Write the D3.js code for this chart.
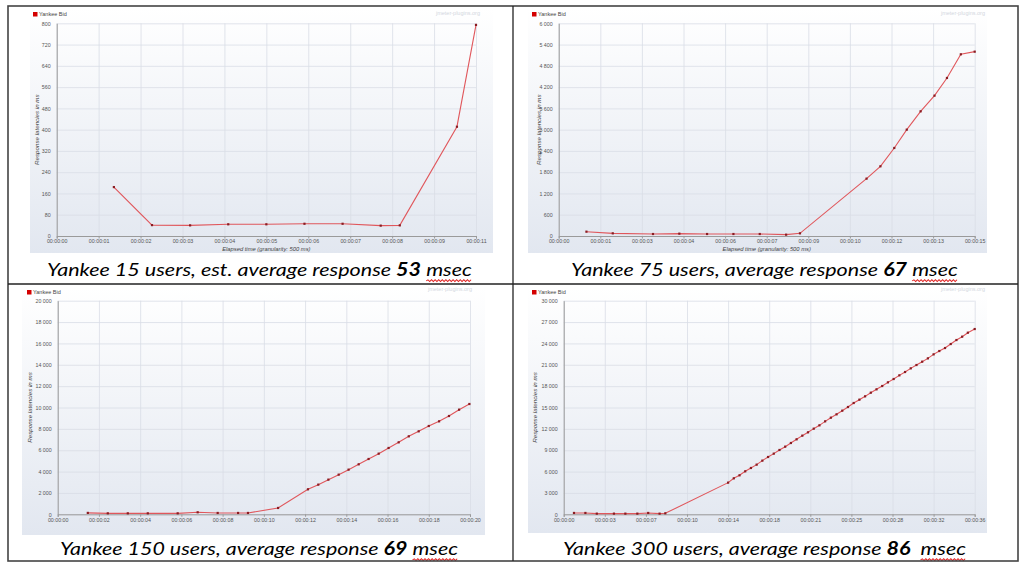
<!DOCTYPE html>
<html><head><meta charset="utf-8">
<script src="https://cdn.jsdelivr.net/npm/d3@7"></script>
<style>body{margin:0;background:#fff}svg{display:block}</style>
</head><body>
<script>
// ---------- DATA ----------
const seriesName = "Yankee Bid";
const yTitle = "Response latencies in ms";
const xTitle = "Elapsed time (granularity: 500 ms)";
const watermark = "jmeter-plugins.org";

// Panel 1: 15 users
const p1Times  = [1.5, 2.5, 3.5, 4.5, 5.5, 6.5, 7.5, 8.5, 9.0, 10.5, 11.0];
const p1Values = [184, 41, 40, 44, 44, 46, 46, 39, 40, 411, 794];
const p1XTicks = [0, 1.1, 2.2, 3.3, 4.4, 5.5, 6.6, 7.7, 8.8, 9.9, 11];
const p1XLabels = ["00:00:00","00:00:01","00:00:02","00:00:03","00:00:04","00:00:05","00:00:06","00:00:07","00:00:08","00:00:09","00:00:11"];
const p1YTicks = [0, 80, 160, 240, 320, 400, 480, 560, 640, 720, 800];

// Panel 2: 75 users
const p2Times  = [1.0, 1.95, 3.4, 4.35, 5.35, 6.3, 7.25, 8.2, 8.7, 11.1, 11.6, 12.1, 12.55, 13.05, 13.55, 14.0, 14.5, 15.0];
const p2Values = [122, 75, 56, 66, 56, 56, 56, 38, 75, 1618, 1966, 2483, 3000, 3517, 3959, 4458, 5125, 5200];
const p2XTicks = [0, 1.5, 3, 4.5, 6, 7.5, 9, 10.5, 12, 13.5, 15];
const p2XLabels = ["00:00:00","00:00:01","00:00:03","00:00:04","00:00:06","00:00:07","00:00:09","00:00:10","00:00:12","00:00:13","00:00:15"];
const p2YTicks = [0, 600, 1200, 1800, 2400, 3000, 3600, 4200, 4800, 5400, 6000];

// Panel 3: 150 users
const p3Times  = [1.46, 2.43, 3.4, 4.37, 5.82, 6.79, 7.76, 8.75, 9.23, 10.69, 12.14, 12.64, 13.13, 13.63, 14.11, 14.6, 15.08, 15.57, 16.05, 16.54, 17.03, 17.51, 18.0, 18.5, 18.98, 19.47, 19.97];
const p3Values = [130, 90, 90, 90, 90, 187, 125, 125, 125, 593, 2340, 2777, 3245, 3713, 4181, 4680, 5179, 5678, 6209, 6739, 7301, 7769, 8268, 8705, 9204, 9797, 10327];
const p3XTicks = [0, 2, 4, 6, 8, 10, 12, 14, 16, 18, 20];
const p3XLabels = ["00:00:00","00:00:02","00:00:04","00:00:06","00:00:08","00:00:10","00:00:12","00:00:14","00:00:16","00:00:18","00:00:20"];
const p3YTicks = [0, 2000, 4000, 6000, 8000, 10000, 12000, 14000, 16000, 18000, 20000];

// Panel 4: 300 users
const p4Times  = [0.9, 1.9, 2.9, 4.4, 5.4, 6.45, 7.4, 8.4, 8.9,
  14.4, 14.9, 15.4, 15.9, 16.4, 16.9, 17.4, 17.9, 18.4, 18.9, 19.4, 19.9, 20.4, 20.9, 21.4, 21.9, 22.4, 22.9, 23.4, 23.9,
  24.4, 24.9, 25.4, 25.9, 26.4, 26.9, 27.4, 27.9, 28.4, 28.9, 29.4, 29.9, 30.4, 30.9, 31.4, 31.9, 32.4, 32.9, 33.4, 33.9,
  34.4, 34.9, 35.4, 36.0];
const p4Values = [187, 187, 94, 94, 94, 94, 187, 94, 140,
  4446, 5054, 5476, 6037, 6505, 6973, 7535, 8050, 8518, 9032, 9500, 10015, 10530, 11045, 11513, 12028, 12496, 13057, 13572, 14040,
  14555, 15070, 15631, 16099, 16567, 17082, 17550, 18018, 18533, 19001, 19516, 19984, 20498, 20966, 21434, 21902, 22464, 22932, 23353, 23915,
  24476, 24944, 25506, 26021];
const p4XTicks = [0, 3.6, 7.2, 10.8, 14.4, 18, 21.6, 25.2, 28.8, 32.4, 36];
const p4XLabels = ["00:00:00","00:00:03","00:00:07","00:00:10","00:00:14","00:00:18","00:00:21","00:00:25","00:00:28","00:00:32","00:00:36"];
const p4YTicks = [0, 3000, 6000, 9000, 12000, 15000, 18000, 21000, 24000, 27000, 30000];

const captions = [
  ["Yankee 15 users, est. average response ", "53", " msec"],
  ["Yankee 75 users, average response ", "67", " msec"],
  ["Yankee 150 users, average response ", "69", " msec"],
  ["Yankee 300 users, average response ", "86", "  msec"]
];

// ---------- LAYOUT ----------
const panels = [
  {t:p1Times, v:p1Values, xt:p1XTicks, xl:p1XLabels, yt:p1YTicks, cap:captions[0],
   L:56.7, R:476, T:23.3, B:236, img:[30,8,463,245], leg:[33,12], ytx:37, xty:251, wm:[480,15], capX:47, capW:425, capY:276},
  {t:p2Times, v:p2Values, xt:p2XTicks, xl:p2XLabels, yt:p2YTicks, cap:captions[1],
   L:558.7, R:974.7, T:23.3, B:236, img:[528,8,459,245], leg:[532,12], ytx:539, xty:251, wm:[985,15], capX:571, capW:387, capY:276},
  {t:p3Times, v:p3Values, xt:p3XTicks, xl:p3XLabels, yt:p3YTicks, cap:captions[2],
   L:57.7, R:470, T:300.7, B:514.3, img:[22,287,463,248], leg:[27,290], ytx:29.5, xty:null, wm:[472,291], capX:60, capW:398, capY:555},
  {t:p4Times, v:p4Values, xt:p4XTicks, xl:p4XLabels, yt:p4YTicks, cap:captions[3],
   L:563.7, R:974.7, T:300.7, B:514.3, img:[528,287,459,246], leg:[532,290], ytx:535, xty:null, wm:[985,291], capX:563, capW:403, capY:555}
];

const W = 1024, H = 567;
const svg = d3.select("body").append("svg").attr("width", W).attr("height", H);
const defs = svg.append("defs");
const grad = defs.append("linearGradient").attr("id","bg").attr("x1",0).attr("y1",0).attr("x2",0).attr("y2",1);
grad.append("stop").attr("offset","0%").attr("stop-color","#ffffff");
grad.append("stop").attr("offset","100%").attr("stop-color","#e2e7f0");

const yFmt = d3.formatLocale({decimal:".", thousands:" ", grouping:[3], currency:["",""]}).format(",");
const small = "'Liberation Sans', Arial, sans-serif";
const tickSize = 5.3;

panels.forEach((p, i) => {
  const g = svg.append("g");
  g.append("rect").attr("x",p.img[0]).attr("y",p.img[1]).attr("width",p.img[2]).attr("height",p.img[3]).attr("fill","url(#bg)");

  const x = d3.scaleLinear().domain([p.xt[0], p.xt[p.xt.length-1]]).range([p.L, p.R]);
  const y = d3.scaleLinear().domain([0, p.yt[p.yt.length-1]]).range([p.B, p.T]);

  // grid
  g.append("g").attr("transform",`translate(0,${p.B})`)
    .call(d3.axisBottom(x).tickValues(p.xt).tickSize(-(p.B-p.T)).tickFormat(""))
    .call(a => { a.select(".domain").remove(); a.selectAll("line").attr("stroke","#d9dde6").attr("stroke-width",0.8); });
  g.append("g").attr("transform",`translate(${p.L},0)`)
    .call(d3.axisLeft(y).tickValues(p.yt).tickSize(-(p.R-p.L)).tickFormat(""))
    .call(a => { a.select(".domain").remove(); a.selectAll("line").attr("stroke","#d9dde6").attr("stroke-width",0.8); });

  // axes
  const xa = g.append("g").attr("transform",`translate(0,${p.B})`)
    .call(d3.axisBottom(x).tickValues(p.xt).tickSize(2.5).tickPadding(1).tickFormat((d,k)=>p.xl[k]));
  xa.select(".domain").attr("stroke","#9a9a9a");
  xa.selectAll("line").attr("stroke","#9a9a9a");
  xa.selectAll("text").attr("font-family",small).attr("font-size",tickSize).attr("fill","#555");

  const ya = g.append("g").attr("transform",`translate(${p.L},0)`)
    .call(d3.axisLeft(y).tickValues(p.yt).tickSize(0).tickPadding(6).tickFormat(yFmt));
  ya.select(".domain").attr("stroke","#9a9a9a");
  ya.selectAll("text").attr("font-family",small).attr("font-size",tickSize).attr("fill","#555");

  // axis titles
  g.append("text").attr("transform",`translate(${p.ytx},${(p.T+p.B)/2}) rotate(-90)`)
    .attr("text-anchor","middle").attr("dy","0.35em").attr("font-family",small).attr("font-size",6.2)
    .attr("font-style","italic").attr("fill","#444").text(yTitle);
  if (p.xty) g.append("text").attr("x",(p.L+p.R)/2).attr("y",p.xty).attr("text-anchor","middle")
    .attr("font-family",small).attr("font-size",5.8).attr("font-style","italic").attr("fill","#444").text(xTitle);

  // legend
  g.append("rect").attr("x",p.leg[0]).attr("y",p.leg[1]).attr("width",4.5).attr("height",4.5).attr("fill","#d40000");
  g.append("text").attr("x",p.leg[0]+6).attr("y",p.leg[1]+4.3).attr("font-family",small).attr("font-size",5.5)
    .attr("fill","#444").text(seriesName);
  g.append("text").attr("x",p.wm[0]).attr("y",p.wm[1]).attr("text-anchor","end").attr("font-family",small)
    .attr("font-size",5.5).attr("fill","#d3d7de").text(watermark);

  // line
  const pts = p.t.map((t,k)=>[t, p.v[k]]);
  g.append("path").datum(pts).attr("fill","none").attr("stroke","#e0575c").attr("stroke-width",1.1)
    .attr("d", d3.line().x(d=>x(d[0])).y(d=>y(d[1])));
  g.selectAll(".pt").data(pts).join("rect").attr("x",d=>x(d[0])-1.1).attr("y",d=>y(d[1])-1.1)
    .attr("width",2.2).attr("height",2.2).attr("fill","#8a1c22");

  // caption
  const cg = svg.append("g");
  const txt = cg.append("text").attr("x",0).attr("y",0).attr("font-family","Lato, 'Open Sans', sans-serif")
    .attr("font-size",18).attr("font-style","italic").attr("fill","#000").style("white-space","pre");
  txt.append("tspan").text(p.cap[0]);
  txt.append("tspan").attr("font-weight","bold").text(p.cap[1]);
  txt.append("tspan").text(p.cap[2]);
  const node = txt.node();
  const full = p.cap.join("");
  const natural = node.getComputedTextLength();
  const sx = p.capW / natural;
  cg.attr("transform",`translate(${p.capX},${p.capY}) scale(${sx},1)`);
  const mi = full.lastIndexOf("msec");
  const x0 = node.getStartPositionOfChar(mi).x;
  const x1 = node.getEndPositionOfChar(mi+3).x;
  let d = `M${x0},5`;
  let up = true;
  for (let xx = x0 + 1.5; xx <= x1 + 0.01; xx += 1.5) { d += `L${xx},${up?3.8:5.6}`; up = !up; }
  cg.append("path").attr("d",d).attr("fill","none").attr("stroke","#e02020").attr("stroke-width",0.9);
});

// table borders
svg.append("rect").attr("x",8).attr("y",6).attr("width",1010).attr("height",555)
  .attr("fill","none").attr("stroke","#444").attr("stroke-width",1.6);
svg.append("line").attr("x1",513).attr("x2",513).attr("y1",6).attr("y2",561).attr("stroke","#222").attr("stroke-width",1.3);
svg.append("line").attr("x1",8).attr("x2",1018).attr("y1",284).attr("y2",284).attr("stroke","#222").attr("stroke-width",1.3);
</script>
</body></html>
